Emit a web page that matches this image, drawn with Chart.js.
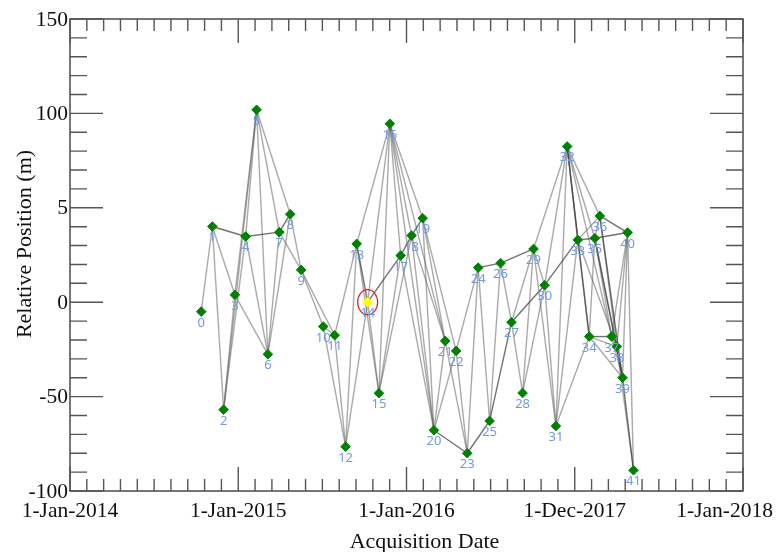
<!DOCTYPE html>
<html>
<head>
<meta charset="utf-8">
<script src="https://cdn.jsdelivr.net/npm/chart.js@4"></script>
<style>
  html, body { margin: 0; padding: 0; background: #fff; }
  #wrap { width: 777px; height: 552px; }
</style>
</head>
<body>
<div id="wrap"><canvas id="chart"></canvas></div>
<script>
// acquisitions: position on the date axis (one unit per labelled tick) and relative position (m)
const pointX = [0.780, 0.846, 0.913, 0.980, 1.044, 1.109, 1.176, 1.244, 1.309, 1.374,
                1.505, 1.573, 1.638, 1.704, 1.769, 1.836, 1.901, 1.965, 2.030, 2.096,
                2.163, 2.230, 2.295, 2.361, 2.426, 2.494, 2.559, 2.624, 2.690, 2.755,
                2.821, 2.888, 2.955, 3.018, 3.086, 3.119, 3.149, 3.219, 3.250, 3.284,
                3.314, 3.349];
const pointY = [-5.0, 40.1, -56.9, 3.9, 34.8, 101.9, -27.6, 37.1, 46.6, 17.1,
                -12.9, -17.5, -76.5, 30.9, 0, -48.2, 94.5, 24.7, 35.3, 44.5,
                -67.8, -20.5, -25.8, -80.0, 18.3, -62.9, 20.7, -10.6, -48.1, 28.2,
                9.0, -65.6, 82.5, 33.0, -18.2, 33.9, 45.7, -18.2, -23.5, -40.0,
                36.9, -89.0];
const refPoint = 14;

// interferometric pairs
const lightEdges = [
  [0,1],[1,2],[1,3],[2,3],[2,4],[2,5],[3,5],[3,6],[4,5],[4,6],[5,6],[5,7],[5,8],
  [6,7],[6,8],[7,9],[8,9],[9,10],[9,11],
  [10,11],[10,12],[11,12],[11,13],[12,13],[12,14],[13,15],[13,16],[14,15],[14,16],
  [15,16],[15,17],[15,18],[16,17],[16,18],[16,19],[16,20],[16,21],[17,20],[18,20],
  [18,21],[19,20],[19,21],[19,22],[20,21],[20,22],[21,23],[22,23],[22,24],[23,24],
  [24,25],[25,26],[26,27],[27,28],[27,29],[28,29],[28,30],[29,30],[29,31],[29,32],
  [30,31],[30,32],
  [31,32],[31,33],[31,34],[32,35],[32,36],[32,37],[33,34],[33,36],[33,38],[34,35],
  [34,38],[34,39],[35,36],[35,37],[35,38],[36,38],[37,38],[37,39],[37,40],[38,39],
  [38,40],[39,40],[40,41],[38,41]
];
const darkEdges = [
  [1,4],[4,7],[7,8],[13,14],[14,17],[17,18],[18,19],[20,23],[23,25],[24,26],
  [25,27],[26,29],[27,30],[30,33],[32,33],[32,34],[33,35],[34,37],[35,39],[35,40],
  [36,39],[36,40],[39,41]
];

// axes
const xMin = 0, xMax = 4, xMinorStep = 0.1;
const xTickValues = [0, 1, 2, 3, 4];
const xTickLabels = ['1-Jan-2014', '1-Jan-2015', '1-Jan-2016', '1-Dec-2017', '1-Jan-2018'];
const yMin = -100, yMax = 150, yMinorStep = 10;
const yTickValues = [-100, -50, 0, 50, 100, 150];
const yTickLabels = ['-100', '-50', '0', '5', '100', '150'];

const points = pointX.map((x, i) => ({ x: x, y: pointY[i] }));
const pointColors = points.map((p, i) => (i === refPoint ? '#ffff00' : '#008000'));

function edgeDataset(pair, color) {
  return {
    type: 'scatter',
    data: [points[pair[0]], points[pair[1]]],
    showLine: true,
    borderColor: color,
    borderWidth: 1.4,
    pointRadius: 0,
  };
}

const frameAndText = {
  id: 'frameAndText',
  afterDatasetsDraw(chart) {
    const { ctx, chartArea: a, scales } = chart;
    const xs = scales.x, ys = scales.y;
    ctx.save();

    // reference point ring and point numbers
    const meta = chart.getDatasetMeta(0);
    const ref = meta.data[refPoint];
    ctx.strokeStyle = '#e02020';
    ctx.lineWidth = 1.2;
    ctx.beginPath();
    ctx.ellipse(ref.x, ref.y, 10, 12.5, 0, 0, Math.PI * 2);
    ctx.stroke();

    ctx.fillStyle = '#6f9be3';
    ctx.font = '13px "Noto Sans"';
    ctx.textAlign = 'center';
    ctx.textBaseline = 'alphabetic';
    meta.data.forEach((el, i) => ctx.fillText(String(i), el.x, el.y + 15));

    // box and inward ticks
    ctx.strokeStyle = '#555';
    ctx.lineWidth = 1.6;
    ctx.strokeRect(a.left, a.top, a.right - a.left, a.bottom - a.top);
    ctx.lineWidth = 1.4;
    ctx.beginPath();
    const nx = Math.round((xMax - xMin) / xMinorStep);
    for (let i = 0; i <= nx; i++) {
      const px = xs.getPixelForValue(xMin + i * xMinorStep);
      const len = i % 10 === 0 ? 24 : 12;
      ctx.moveTo(px, a.bottom); ctx.lineTo(px, a.bottom - len);
      ctx.moveTo(px, a.top); ctx.lineTo(px, a.top + len);
    }
    const ny = Math.round((yMax - yMin) / yMinorStep);
    for (let i = 0; i <= ny; i++) {
      const py = ys.getPixelForValue(yMin + i * yMinorStep);
      const len = i % 5 === 0 ? 33 : 17;
      ctx.moveTo(a.left, py); ctx.lineTo(a.left + len, py);
      ctx.moveTo(a.right, py); ctx.lineTo(a.right - len, py);
    }
    ctx.stroke();

    // tick labels
    ctx.fillStyle = '#111';
    ctx.font = '21.5px "Liberation Serif"';
    ctx.textBaseline = 'alphabetic';
    xTickValues.forEach((v, i) => {
      const w = ctx.measureText(xTickLabels[i]).width;
      let cx = xs.getPixelForValue(v);
      cx = Math.min(Math.max(cx, w / 2 + 2), chart.width - w / 2 - 4);
      ctx.textAlign = 'center';
      ctx.fillText(xTickLabels[i], cx, a.bottom + 26);
    });
    ctx.textAlign = 'right';
    ctx.textBaseline = 'middle';
    yTickValues.forEach((v, i) => {
      ctx.fillText(yTickLabels[i], a.left - 2, ys.getPixelForValue(v) + 1);
    });

    // axis titles
    ctx.font = '22px "Liberation Serif"';
    ctx.textAlign = 'center';
    ctx.textBaseline = 'alphabetic';
    ctx.fillText('Acquisition Date', (a.left + a.right) / 2 + 18, a.bottom + 57);
    ctx.translate(31, (a.top + a.bottom) / 2 - 11);
    ctx.rotate(-Math.PI / 2);
    ctx.fillText('Relative Position (m)', 0, 0);
    ctx.restore();
  }
};

new Chart(document.getElementById('chart'), {
  type: 'scatter',
  data: {
    datasets: [
      {
        data: points,
        pointStyle: 'rectRot',
        pointRadius: 4.8,
        pointBackgroundColor: pointColors,
        pointBorderColor: pointColors,
        pointBorderWidth: 1,
      },
      ...darkEdges.map((e) => edgeDataset(e, 'rgba(60,60,60,0.72)')),
      ...lightEdges.map((e) => edgeDataset(e, 'rgba(100,100,100,0.55)')),
    ],
  },
  options: {
    responsive: true,
    maintainAspectRatio: false,
    animation: false,
    layout: { padding: { top: 19, right: 34, left: 0, bottom: 0 } },
    plugins: { legend: { display: false }, tooltip: { enabled: false } },
    scales: {
      x: {
        type: 'linear', min: xMin, max: xMax,
        grid: { display: false }, border: { display: false },
        ticks: { display: false },
        afterFit: (s) => { s.height = 61; s.paddingLeft = 0; s.paddingRight = 0; },
      },
      y: {
        type: 'linear', min: yMin, max: yMax,
        grid: { display: false }, border: { display: false },
        ticks: { display: false },
        afterFit: (s) => { s.width = 70; s.paddingTop = 0; s.paddingBottom = 0; },
      },
    },
  },
  plugins: [frameAndText],
});
</script>
</body>
</html>
